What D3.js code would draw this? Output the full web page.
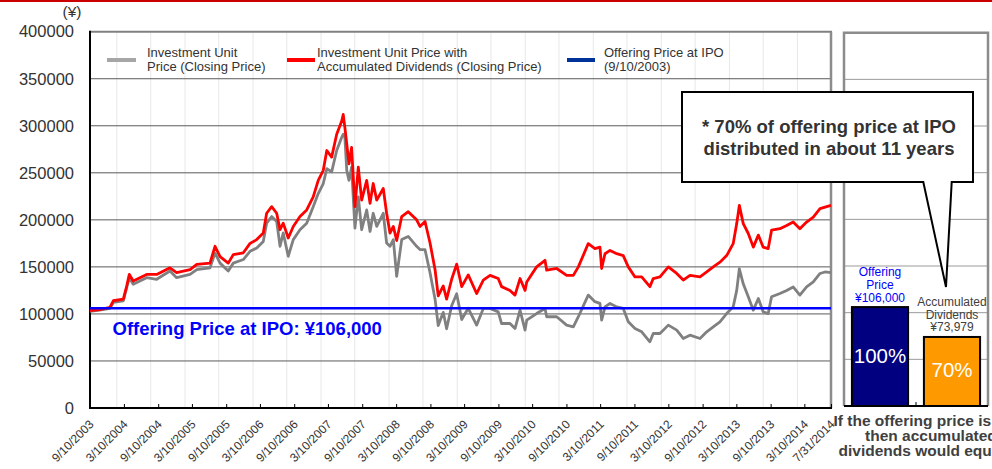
<!DOCTYPE html>
<html>
<head>
<meta charset="utf-8">
<script src="https://cdn.jsdelivr.net/npm/d3@7"></script>
<style>
  html, body { margin: 0; padding: 0; background: #fff; overflow: hidden; }
  svg { display: block; font-family: Arial, 'Liberation Sans', sans-serif; }
</style>
</head>
<body>
<div id="chart"></div>
<script>
// closing dates (one point per visible turn of the lines)
var dates = [
  '2003-09-10', '2003-11-01', '2003-12-26', '2004-01-13', '2004-03-07', '2004-03-25', '2004-04-08', '2004-04-29',
  '2004-07-10', '2004-09-02', '2004-11-12', '2004-12-18', '2005-02-28', '2005-04-05', '2005-06-15', '2005-07-12',
  '2005-08-08', '2005-09-21', '2005-10-18', '2005-12-11', '2006-01-16', '2006-02-21', '2006-03-28', '2006-04-15',
  '2006-05-12', '2006-06-08', '2006-06-26', '2006-07-13', '2006-08-09', '2006-09-05', '2006-10-11', '2006-11-16',
  '2006-12-21', '2007-01-17', '2007-02-13', '2007-03-04', '2007-03-30', '2007-04-26', '2007-05-23', '2007-05-31',
  '2007-06-09', '2007-06-19', '2007-07-01', '2007-07-15', '2007-08-02', '2007-08-20', '2007-09-07', '2007-10-04',
  '2007-10-22', '2007-11-08', '2007-11-27', '2008-01-01', '2008-01-19', '2008-02-06', '2008-02-24', '2008-03-13',
  '2008-04-09', '2008-05-14', '2008-06-28', '2008-07-16', '2008-08-12', '2008-09-08', '2008-10-05', '2008-10-22',
  '2008-11-18', '2008-12-06', '2009-01-02', '2009-01-29', '2009-02-25', '2009-04-01', '2009-05-16', '2009-06-21',
  '2009-07-27', '2009-09-09', '2009-09-27', '2009-11-11', '2009-12-08', '2010-01-04', '2010-01-31', '2010-02-09',
  '2010-04-03', '2010-05-18', '2010-05-27', '2010-07-20', '2010-09-11', '2010-10-17', '2010-11-13', '2011-01-05',
  '2011-02-10', '2011-03-09', '2011-03-18', '2011-04-05', '2011-05-02', '2011-06-07', '2011-07-12', '2011-08-08',
  '2011-09-13', '2011-10-19', '2011-12-02', '2011-12-20', '2012-01-25', '2012-03-10', '2012-04-24', '2012-05-29',
  '2012-07-04', '2012-08-27', '2012-10-02', '2012-11-06', '2012-12-12', '2013-01-17', '2013-02-21', '2013-03-12',
  '2013-03-26', '2013-04-16', '2013-05-13', '2013-06-09', '2013-07-06', '2013-08-01', '2013-08-28', '2013-09-15',
  '2013-10-30', '2013-12-05', '2014-01-09', '2014-02-14', '2014-03-22', '2014-04-27', '2014-06-02', '2014-06-29',
  '2014-07-31'
];

// investment unit price with accumulated dividends (red)
var priceWithDividends = [
  103400, 104500, 106900, 114000, 115700, 129700, 142000, 135000,
  142000, 142000, 149000, 144000, 147000, 152600, 154000, 171900,
  161000, 154000, 163000, 165000, 175000, 179000, 186000, 207000,
  214000, 207000, 189500, 196500, 180700, 193000, 203500, 210500,
  224500, 242000, 252600, 273700, 266700, 291000, 305000, 312000,
  298000, 280700, 259600, 277000, 214000, 256000, 221000, 242000,
  217500, 238600, 221000, 233300, 207000, 186000, 193000, 178000,
  203500, 208700, 200000, 193000, 198200, 175400, 147000, 119200,
  129700, 115700, 136800, 153000, 129000, 141500, 121700, 136000,
  141000, 137600, 129000, 125000, 120000, 137600, 125000, 134000,
  150000, 157000, 146500, 148300, 141000, 141000, 150000, 174700,
  169500, 171000, 148300, 164000, 167500, 164000, 162000, 150000,
  139300, 139300, 129000, 137600, 139300, 150000, 143000, 136000,
  141000, 139300, 144600, 150000, 155000, 162000, 174700, 196000,
  215400, 196000, 185500, 171000, 183800, 171000, 169500, 189000,
  190600, 194000, 197700, 190600, 197700, 203000, 212000, 213600,
  215400
];

// investment unit price, closing price (grey)
var unitPrice = [
  102700, 104000, 106000, 112200, 114000, 128000, 138500, 131500,
  138500, 136800, 145600, 138500, 142000, 147000, 149000, 164800,
  154000, 145600, 154000, 157800, 166600, 170100, 177100, 196500,
  203500, 198200, 171900, 186000, 161300, 179000, 189500, 196500,
  214000, 228000, 238600, 254400, 251000, 273700, 287700, 291000,
  287700, 252600, 242000, 256000, 191200, 224500, 189500, 210500,
  187700, 207000, 193000, 207000, 175400, 171900, 179000, 140000,
  179000, 182400, 171900, 168400, 168400, 143800, 115700, 87600,
  101700, 84200, 108700, 121500, 94000, 106000, 88100, 105800,
  105800, 102200, 89800, 89800, 84500, 104000, 82800, 93400,
  100400, 105800, 97000, 97000, 88100, 86300, 97000, 120000,
  113000, 111200, 93400, 107500, 111200, 107500, 105800, 91600,
  84500, 81000, 70400, 79200, 79200, 88100, 82800, 73900,
  77400, 73900, 81000, 86300, 91600, 100400, 107500, 125000,
  148000, 132000, 118200, 104000, 116400, 102200, 100400, 118200,
  121700, 125000, 128700, 120000, 128700, 134000, 143000, 144600,
  144000
];

var offeringPrice = 106000;
var accumulatedDividends = 73979;

var tickLabels = [
  '9/10/2003', '3/10/2004', '9/10/2004', '3/10/2005', '9/10/2005', '3/10/2006', '9/10/2006',
  '3/10/2007', '9/10/2007', '3/10/2008', '9/10/2008', '3/10/2009', '9/10/2009', '3/10/2010',
  '9/10/2010', '3/10/2011', '9/10/2011', '3/10/2012', '9/10/2012', '3/10/2013', '9/10/2013',
  '3/10/2014', '7/31/2014'
];
var yTicks = [0, 50000, 100000, 150000, 200000, 250000, 300000, 350000, 400000];

var legendLabels = [
  ['Investment Unit', 'Price (Closing Price)'],
  ['Investment Unit Price with', 'Accumulated Dividends (Closing Price)'],
  ['Offering Price at IPO', '(9/10/2003)']
];

var barCategories = ['Offering Price', 'Accumulated Dividends'];
var barValues = [offeringPrice, accumulatedDividends];
var barPercents = ['100%', '70%'];
var barCaptions = [['Offering', 'Price'], ['Accumulated', 'Dividends']];

var calloutLines = ['* 70% of offering price at IPO', 'distributed in about 11 years'];
var footnoteLines = ['If the offering price is 100%,', 'then accumulated', 'dividends would equal 70%.'];


var chart = {
  params: {
    node: '#chart',
    width: 992,
    height: 469,
    plot: { left: 90, right: 831, top: 31.7, bottom: 408 },
    side: { left: 844, right: 988, top: 32.7, bottom: 406 }
  },

  /**
   * Builds the scales and draws every part of the picture.
   */
  draw: function() {
    var p = this.params;
    var parseDay = d3.timeParse('%Y-%m-%d');
    var parseTick = d3.timeParse('%m/%d/%Y');

    this.series = dates.map(function(d, i) {
      return { date: parseDay(d), price: unitPrice[i], withDiv: priceWithDividends[i] };
    });
    this.tickDates = tickLabels.map(function(t) { return parseTick(t); });

    this.x = d3.scaleTime()
               .domain([this.tickDates[0], this.tickDates[this.tickDates.length - 1]])
               .range([p.plot.left, p.plot.right]);

    this.y = d3.scaleLinear()
               .domain([0, 400000])
               .range([p.plot.bottom, p.plot.top]);

    this.svg = d3.select(p.node).append('svg')
                 .attr('width', p.width)
                 .attr('height', p.height);

    this.svg.append('rect').attr('width', p.width).attr('height', p.height).attr('fill', '#fff');
    // thin red rule across the page top
    this.svg.append('rect').attr('width', p.width).attr('height', 2).attr('fill', '#cc0000');

    this.drawGrid();
    this.drawAxes();
    this.drawLegend();
    this.drawLines();
    this.drawSidePanel();
    this.drawCallout();
  },

  drawGrid: function() {
    var p = this.params, x = this.x, y = this.y;
    var g = this.svg.append('g').attr('class', 'grid');

    // faint vertical lines fall on 1 Feb / 1 Aug
    var vDates = d3.timeMonth.range(new Date(2004, 1, 1), this.x.domain()[1], 6);
    g.selectAll('.vgrid').data(vDates).enter()
     .append('line')
     .attr('x1', function(d) { return x(d); })
     .attr('x2', function(d) { return x(d); })
     .attr('y1', p.plot.top)
     .attr('y2', p.plot.bottom)
     .attr('stroke', '#e8e8e8')
     .attr('stroke-width', 1);

    g.selectAll('.hgrid').data(yTicks.slice(1, -1)).enter()
     .append('line')
     .attr('x1', p.plot.left)
     .attr('x2', p.plot.right)
     .attr('y1', function(d) { return y(d); })
     .attr('y2', function(d) { return y(d); })
     .attr('stroke', '#5a5a5a')
     .attr('stroke-width', 1);

    // plot frame: grey top and right, black axes drawn later
    g.append('line')
     .attr('x1', p.plot.left).attr('x2', p.plot.right + 1)
     .attr('y1', y(400000)).attr('y2', y(400000))
     .attr('stroke', '#808080').attr('stroke-width', 2);
    g.append('line')
     .attr('x1', p.plot.right).attr('x2', p.plot.right)
     .attr('y1', p.plot.top).attr('y2', p.plot.bottom)
     .attr('stroke', '#8c8c8c').attr('stroke-width', 2.5);
  },

  drawAxes: function() {
    var p = this.params;

    var yAxis = d3.axisLeft(this.y)
                  .tickValues(yTicks)
                  .tickFormat(d3.format('d'))
                  .tickSize(0)
                  .tickPadding(16);
    var yg = this.svg.append('g')
                 .attr('class', 'y axis')
                 .attr('transform', 'translate(' + p.plot.left + ',0)')
                 .call(yAxis);
    yg.select('.domain').remove();
    yg.selectAll('text')
      .style('font-size', '16.5px')
      .attr('fill', '#333');

    this.svg.append('text')
        .attr('x', 72).attr('y', 17)
        .attr('text-anchor', 'middle')
        .style('font-size', '15.5px')
        .attr('fill', '#333')
        .text('(¥)');

    var xAxis = d3.axisBottom(this.x)
                  .tickValues(this.tickDates)
                  .tickSizeInner(-4)
                  .tickSizeOuter(0)
                  .tickFormat(function(d, i) { return tickLabels[i]; });

    var xg = this.svg.append('g')
                 .attr('class', 'x axis')
                 .attr('transform', 'translate(0,' + p.plot.bottom + ')')
                 .call(xAxis);
    xg.select('.domain').remove();
    xg.selectAll('.tick line').attr('stroke', '#000').attr('stroke-width', 1);
    xg.selectAll('text')
      .style('font-size', '12px')
      .style('text-anchor', 'end')
      .attr('fill', '#333')
      .attr('x', 0).attr('y', 0).attr('dy', 0)
      .attr('transform', 'translate(4,17) rotate(-45)');

    // black axis lines
    this.svg.append('line')
        .attr('x1', p.plot.left).attr('x2', p.plot.left)
        .attr('y1', p.plot.top - 1).attr('y2', p.plot.bottom + 1)
        .attr('stroke', '#000').attr('stroke-width', 2);
    this.svg.append('line')
        .attr('x1', p.plot.left - 1).attr('x2', p.plot.right + 1)
        .attr('y1', p.plot.bottom).attr('y2', p.plot.bottom)
        .attr('stroke', '#000').attr('stroke-width', 2);
  },

  drawLegend: function() {
    var samples = [[107, 136, '#a6a6a6'], [287, 315, '#ff0000'], [567, 595, '#003399']];
    var textX = [147, 317, 604];
    var g = this.svg.append('g').attr('class', 'legend');

    legendLabels.forEach(function(lines, i) {
      g.append('line')
       .attr('x1', samples[i][0]).attr('x2', samples[i][1])
       .attr('y1', 60).attr('y2', 60)
       .attr('stroke', samples[i][2]).attr('stroke-width', 4);
      g.append('text')
       .attr('x', textX[i]).attr('y', 57)
       .style('font-size', '13px')
       .attr('fill', '#333')
       .selectAll('tspan').data(lines).enter()
       .append('tspan')
       .attr('x', textX[i])
       .attr('dy', function(d, j) { return j ? 14 : 0; })
       .text(function(d) { return d; });
    });
  },

  drawLines: function() {
    var x = this.x, y = this.y, p = this.params;

    var priceLine = d3.line()
                      .x(function(d) { return x(d.date); })
                      .y(function(d) { return y(d.price); });
    var divLine = d3.line()
                    .x(function(d) { return x(d.date); })
                    .y(function(d) { return y(d.withDiv); });

    this.svg.append('path')
        .datum(this.series)
        .attr('d', priceLine)
        .attr('fill', 'none')
        .attr('stroke', '#808080')
        .attr('stroke-width', 2.8)
        .attr('stroke-linejoin', 'round');

    this.svg.append('path')
        .datum(this.series)
        .attr('d', divLine)
        .attr('fill', 'none')
        .attr('stroke', '#ff0000')
        .attr('stroke-width', 2.8)
        .attr('stroke-linejoin', 'round');

    // offering price at IPO
    this.svg.append('line')
        .attr('x1', p.plot.left).attr('x2', p.plot.right)
        .attr('y1', y(offeringPrice)).attr('y2', y(offeringPrice))
        .attr('stroke', '#0000ff')
        .attr('stroke-width', 2.5);

    this.svg.append('text')
        .attr('x', 112.5).attr('y', 335)
        .style('font-size', '18.5px')
        .style('font-weight', 'bold')
        .attr('fill', '#0000ff')
        .text('Offering Price at IPO: ¥' + d3.format(',')(offeringPrice));
  },

  /**
   * Small bar panel on the right, comparing offering price with dividends.
   */
  drawSidePanel: function() {
    var s = this.params.side;
    var g = this.svg.append('g').attr('class', 'side');

    var ys = d3.scaleLinear().domain([0, 400000]).range([s.bottom, s.top]);
    var xb = d3.scaleBand()
               .domain(barCategories)
               .range([s.left, s.right])
               .paddingInner(0.22)
               .paddingOuter(0.11);

    g.selectAll('.sgrid').data(yTicks.slice(1, -1)).enter()
     .append('line')
     .attr('x1', s.left).attr('x2', s.right)
     .attr('y1', function(d) { return ys(d); })
     .attr('y2', function(d) { return ys(d); })
     .attr('stroke', '#9a9a9a')
     .attr('stroke-width', 1);

    g.append('path')
     .attr('d', 'M' + s.left + ',' + s.bottom + 'V' + s.top + 'H' + s.right + 'V' + s.bottom)
     .attr('fill', 'none')
     .attr('stroke', '#8c8c8c')
     .attr('stroke-width', 2.5);

    g.append('line')
     .attr('x1', s.left).attr('x2', s.right)
     .attr('y1', s.bottom).attr('y2', s.bottom)
     .attr('stroke', '#000').attr('stroke-width', 2);
    g.append('line')
     .attr('x1', s.left + xb.step()).attr('x2', s.left + xb.step())
     .attr('y1', s.bottom - 4).attr('y2', s.bottom)
     .attr('stroke', '#000').attr('stroke-width', 1);

    var fills = ['#000080', '#ff9900'];
    var captionColors = ['#0000ff', '#404040'];

    barCategories.forEach(function(c, i) {
      var v = barValues[i];
      var cx = xb(c) + xb.bandwidth() / 2;

      g.append('rect')
       .attr('x', xb(c))
       .attr('y', ys(v))
       .attr('width', xb.bandwidth())
       .attr('height', ys(0) - ys(v))
       .attr('fill', fills[i])
       .attr('stroke', '#000')
       .attr('stroke-width', 2);

      g.append('text')
       .attr('x', cx)
       .attr('y', ys(v / 2) + 6)
       .attr('text-anchor', 'middle')
       .style('font-size', '20.5px')
       .attr('fill', '#fff')
       .text(barPercents[i]);

      var lines = barCaptions[i].concat(['¥' + d3.format(',')(v)]);
      g.selectAll('.cap' + i).data(lines).enter()
       .append('text')
       .attr('x', cx)
       .attr('y', function(d, j) { return ys(v) - 5.5 - (lines.length - 1 - j) * 12.6; })
       .attr('text-anchor', 'middle')
       .style('font-size', '12px')
       .attr('fill', captionColors[i])
       .text(function(d) { return d; });
    });

    // caption runs past the page edge, as in the source
    var footX = [833.5, 865, 838.5];
    g.selectAll('.foot').data(footnoteLines).enter()
     .append('text')
     .attr('x', function(d, i) { return footX[i]; })
     .attr('y', function(d, i) { return 426 + i * 15; })
     .style('font-size', '15.5px')
     .style('font-weight', 'bold')
     .attr('fill', '#404040')
     .text(function(d) { return d; });
  },

  drawCallout: function() {
    var g = this.svg.append('g').attr('class', 'callout');

    g.append('path')
     .attr('d', 'M682,92H973V182H951.7L946,287L923.3,182H682Z')
     .attr('fill', '#fff')
     .attr('stroke', '#000')
     .attr('stroke-width', 2)
     .attr('stroke-linejoin', 'miter');

    g.selectAll('text').data(calloutLines).enter()
     .append('text')
     .attr('x', 829)
     .attr('y', function(d, i) { return 133 + i * 21.5; })
     .attr('text-anchor', 'middle')
     .style('font-size', '18.5px')
     .style('font-weight', 'bold')
     .attr('fill', '#333')
     .text(function(d) { return d; });
  }
};

chart.draw();
</script>
</body>
</html>
